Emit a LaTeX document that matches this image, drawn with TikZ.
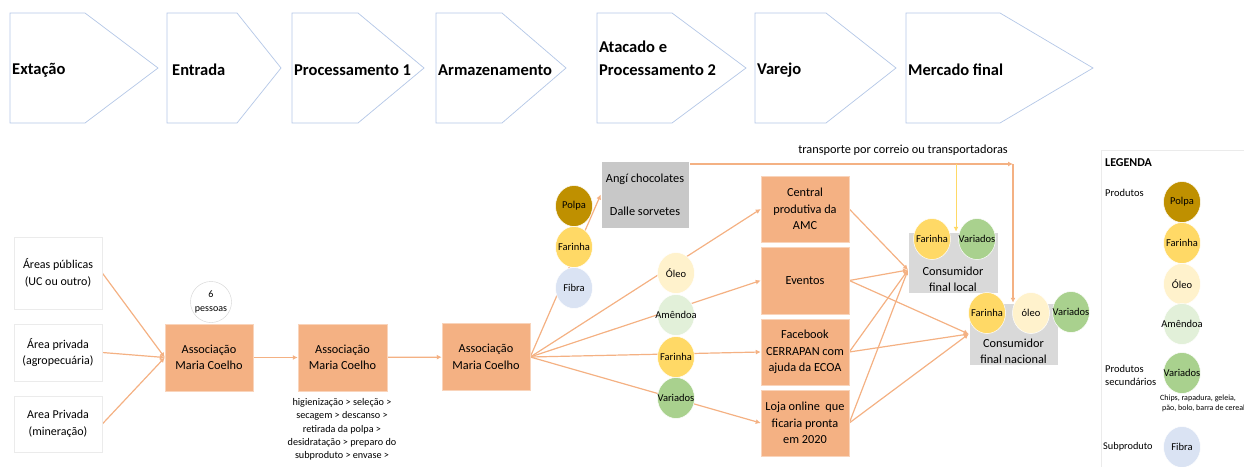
\documentclass[tikz,border=0pt]{standalone}
\usepackage{fontspec}
\setmainfont{Carlito}
\usetikzlibrary{arrows.meta,shapes.geometric,backgrounds}
\definecolor{obox}{HTML}{F4B183}
\definecolor{oline}{HTML}{F4B183}
\definecolor{gbox}{HTML}{D9D9D9}
\definecolor{chev}{HTML}{B4C7E7}
\definecolor{cpolpa}{HTML}{BF9000}
\definecolor{cfar}{HTML}{FFD966}
\definecolor{cfib}{HTML}{DAE3F3}
\definecolor{coleo}{HTML}{FFF2CC}
\definecolor{camen}{HTML}{E2F0D9}
\definecolor{cvar}{HTML}{A9D18E}
\definecolor{lgray}{HTML}{EBEBEB}
\definecolor{ylin}{HTML}{FFD966}
\newcommand\zw[1]{\makebox[0pt]{#1}}
\begin{document}
\begin{tikzpicture}[x=1pt,y=-1pt,
  chevron/.style={draw=chev, line width=0.7pt, fill=white},
  chevtext/.style={anchor=west, font=\fontsize{16.5}{19}\selectfont\bfseries, align=left, inner sep=0pt},
  obx/.style={fill=obox, draw=obox!55!white, line width=0.5pt, minimum width=88pt, minimum height=67pt, inner sep=1pt, align=center, font=\fontsize{12.3}{16.5}\selectfont},
  wbx/.style={draw=lgray, fill=white, line width=0.6pt, minimum width=88pt, inner sep=1pt, align=center, font=\fontsize{12}{16.5}\selectfont},
  gbx/.style={fill=gbox, draw=white, line width=0.5pt, minimum width=88pt, minimum height=67pt, inner sep=1pt, align=center, font=\fontsize{12.3}{16.5}\selectfont},
  prod/.style={ellipse, draw=white, line width=0.5pt, minimum width=37pt, minimum height=41pt, inner sep=0pt, font=\fontsize{10.5}{11}\selectfont},
  arr/.style={draw=oline, line width=1.2pt, -{Latex[length=5pt,width=5pt]}},
  ln/.style={draw=oline, line width=1.2pt},
  plain/.style={inner sep=0pt, align=center},
]
\useasboundingbox (0,0) rectangle (1244,466);

% chevrons
\draw[chevron] (10,13) -- (85,13) -- (158,68) -- (85,123) -- (10,123) -- cycle;
\draw[chevron] (167,13) -- (237,13) -- (281,68) -- (237,123) -- (167,123) -- cycle;
\draw[chevron] (292,13) -- (358,13) -- (424,68) -- (358,123) -- (292,123) -- cycle;
\draw[chevron] (436,13) -- (502,13) -- (566,68) -- (502,123) -- (436,123) -- cycle;
\draw[chevron] (597,13) -- (672,13) -- (746,68) -- (672,123) -- (597,123) -- cycle;
\draw[chevron] (755,13) -- (826,13) -- (896,68) -- (826,123) -- (755,123) -- cycle;
\draw[chevron] (906,13) -- (1000,13) -- (1093,68) -- (1000,123) -- (906,123) -- cycle;
\node[chevtext] (t1) at (12,70) {Extação};
\node[chevtext] (t2) at (172,70) {Entrada};
\node[chevtext] (t3) at (294,70) {Processamento 1};
\node[chevtext] (t4) at (438,70) {Armazenamento};
\node[chevtext, font=\fontsize{16.5}{23}\selectfont\bfseries] (t5) at (599,58.5) {Atacado e\\Processamento 2};
\node[chevtext] (t6) at (757,70) {Varejo};
\node[chevtext] (t7) at (908,70) {Mercado final};

% left sources
\node[wbx, minimum height=72pt] (l1) at (58,273) {Áreas públicas\\(UC ou outro)};
\node[wbx, minimum height=57pt] (l2) at (58,352.5) {Área privada\\(agropecuária)};
\node[wbx, minimum height=56pt] (l3) at (58,424) {Area Privada\\(mineração)};

% associations
\node[obx] (a1) at (209,357.5) {Associação\\Maria Coelho};
\node[obx, minimum width=89pt] (a2) at (342.5,357.5) {Associação\\Maria Coelho};
\node[obx] (a3) at (486,357) {Associação\\Maria Coelho};
\node[circle, draw=gray!35, fill=white, minimum size=41pt, inner sep=0pt, align=center, font=\fontsize{10}{14}\selectfont] (p6) at (211,302) {6\\pessoas};
\node[plain, font=\fontsize{10.2}{13.3}\selectfont] (proc) at (342,429.5) {higienização > seleção >\\secagem > descanso >\\retirada da polpa >\\desidratação > preparo do\\subproduto > envase >};

% wholesale
\node[gbx, fill=gbox!92!black] (angi) at (645,194.5) {Angí chocolates\\[16.5pt]Dalle sorvetes};

% products
\node[prod, fill=cpolpa] (polpa) at (574,206) {\zw{Polpa}};
\node[prod, fill=cfar] (far1) at (574,247) {\zw{Farinha}};
\node[prod, fill=cfib] (fibra) at (574,288) {\zw{Fibra}};
\node[prod, fill=coleo] (oleo) at (676,273) {\zw{Óleo}};
\node[prod, fill=camen] (amen) at (676,315) {\zw{Amêndoa}};
\node[prod, fill=cfar] (far2) at (676,357) {\zw{Farinha}};
\node[prod, fill=cvar] (var1) at (676,398) {\zw{Variados}};

% retail
\node[obx, minimum height=66pt] (central) at (805,209) {Central\\produtiva da\\AMC};
\node[obx] (eventos) at (805,280.5) {Eventos};
\node[obx, minimum height=66pt] (face) at (805,352) {Facebook\\CERRAPAN com\\ajuda da ECOA};
\node[obx, minimum height=66pt] (loja) at (805,423) {Loja online\ \ que\\ficaria pronta\\em 2020};

% consumers
\node[gbx, minimum width=90pt, minimum height=61pt] (local) at (953,262.5) {};
\node[plain, font=\fontsize{12.3}{16}\selectfont] (localt) at (953,279) {Consumidor\\final local};
\node[prod, fill=cfar] (far3) at (932,239) {\zw{Farinha}};
\node[prod, fill=cvar] (var2) at (977,239) {\zw{Variados}};
\node[gbx, minimum width=89pt, minimum height=62pt] (nac) at (1013.5,334) {};
\node[plain, font=\fontsize{12.3}{16}\selectfont] (nact) at (1013.5,351) {Consumidor\\final nacional};
\node[prod, fill=cfar] (far4) at (987,313) {\zw{Farinha}};
\node[prod, fill=coleo] (oleo2) at (1031,313) {\zw{óleo}};
\node[prod, fill=cvar] (var3) at (1071,312) {\zw{Variados}};

\node[font=\fontsize{12.3}{14}\selectfont, inner sep=0pt] (transp) at (903,150) {transporte por correio ou transportadoras};
\coordinate (tc) at (1013,164);
\coordinate (tb) at (956,164);
\coordinate (inL) at (908,270);

% legend
\draw[draw=lgray, line width=0.6pt] (1101,150) rectangle (1260,480);
\node[anchor=west, inner sep=0pt, font=\fontsize{12}{14}\selectfont\bfseries] (leg) at (1105,163) {LEGENDA};
\node[anchor=west, inner sep=0pt, font=\fontsize{10.5}{12}\selectfont] (lprod) at (1105,193) {Produtos};
\node[prod, fill=cpolpa] (lpolpa) at (1182,202) {\zw{Polpa}};
\node[prod, fill=cfar] (lfar) at (1182,243) {\zw{Farinha}};
\node[prod, fill=coleo] (loleo) at (1182,284) {\zw{Óleo}};
\node[prod, fill=camen] (lamen) at (1182,324) {\zw{Amêndoa}};
\node[anchor=west, inner sep=0pt, align=left, font=\fontsize{10.5}{13}\selectfont] (lsec) at (1105,375.5) {Produtos\\secundários};
\node[prod, fill=cvar] (lvar) at (1182,373) {\zw{Variados}};
\node[anchor=west, inner sep=0pt, align=left, font=\fontsize{8}{10}\selectfont] (lchips) at (1160,403) {Chips, rapadura, geleia,\\\hspace{2pt}pão, bolo, barra de cereal};
\node[anchor=west, inner sep=0pt, font=\fontsize{10.3}{12}\selectfont] (lsub) at (1103,447) {Subproduto};
\node[prod, fill=cfib] (lfib) at (1182,447) {\zw{Fibra}};

% connectors
\begin{scope}[on background layer]
\draw[arr] (l1.east) -- (a1.west);
\draw[arr] (l2.east) -- (a1.west);
\draw[arr] (l3.east) -- (a1.west);
\draw[arr] (a1) -- (a2);
\draw[arr] (a2) -- (a3);
\draw[arr] (a3.east) -- (angi.west);
\draw[arr] (a3.east) -- (central.west);
\draw[arr] (a3.east) -- (eventos.west);
\draw[arr] (a3.east) -- (face.west);
\draw[arr] (a3.east) -- (loja.west);
\draw[arr] (central.east) -- (inL);
\draw[arr] (eventos.east) -- (inL);
\draw[arr] (eventos.east) -- (nac.west);
\draw[arr] (face.east) -- (inL);
\draw[arr] (face.east) -- (nac.west);
\draw[arr] (loja.east) -- (inL);
\draw[arr] (loja.east) -- (nac.west);
\draw[arr] (angi.east |- tc) -- (tc);
\draw[arr] (tc) -- (nac.north -| tc);
\draw[arr, draw=ylin, line width=1pt] (tb) -- (local.north -| tb);
\end{scope}
\end{tikzpicture}
\end{document}
